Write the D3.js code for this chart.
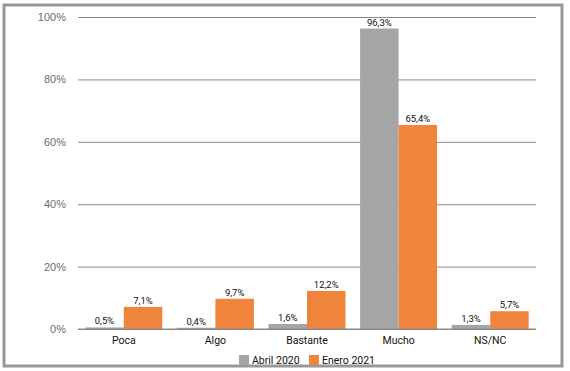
<!DOCTYPE html>
<html>
<head>
<meta charset="utf-8">
<script src="https://cdn.jsdelivr.net/npm/d3@7"></script>
<style>
  body { margin: 0; background: #fff; }
  svg { display: block; font-family: Roboto, 'Open Sans', sans-serif; }
</style>
</head>
<body>
<svg id="chart"></svg>
<script>
const categories = ['Poca', 'Algo', 'Bastante', 'Mucho', 'NS/NC']
const seriesNames = ['Abril 2020', 'Enero 2021']
const abril2020 = [0.5, 0.4, 1.6, 96.3, 1.3]
const enero2021 = [7.1, 9.7, 12.2, 65.4, 5.7]
const yTicks = [0, 20, 40, 60, 80, 100]
const colors = ['#a5a5a5', '#ef843c']

const width = 570
const height = 371
const margin = {left: 78, right: 34, top: 17, bottom: 42}

const svg = d3.select('#chart')
  .attr('width', width)
  .attr('height', height)

// frame
svg.append('rect')
  .attr('x', 4).attr('y', 5)
  .attr('width', 558).attr('height', 361)
  .attr('fill', 'none')
  .attr('stroke', '#999')
  .attr('stroke-width', 3)

const chartWidth = width - margin.left - margin.right
const chartHeight = height - margin.top - margin.bottom

const chart = svg.append('g')
  .attr('transform', `translate(${margin.left},${margin.top})`)

const x = d3.scaleBand().domain(categories).range([0, chartWidth])
const xInner = d3.scaleBand().domain(seriesNames).range([0, 77])
const y = d3.scaleLinear().domain([0, 100]).range([chartHeight, 0])

// gridlines + y labels
const yAxis = chart.append('g')
  .call(d3.axisLeft(y).tickValues(yTicks).tickSize(-chartWidth).tickPadding(12).tickFormat(d => d + '%'))
yAxis.select('.domain').remove()
yAxis.selectAll('.tick line').attr('stroke', '#8a8a8a')
yAxis.selectAll('.tick text')
  .attr('fill', '#6b6b6b')
  .style('font-size', '11px')

const rows = categories.map((c, i) => ({cat: c, vals: [abril2020[i], enero2021[i]]}))

const groups = chart.selectAll('.grp')
  .data(rows)
  .enter()
  .append('g')
  .attr('transform', d => `translate(${x(d.cat) + (x.bandwidth() - 77) / 2},0)`)

groups.selectAll('rect')
  .data(d => d.vals.map((v, j) => ({name: seriesNames[j], v: v, j: j})))
  .enter()
  .append('rect')
  .attr('x', d => xInner(d.name))
  .attr('width', xInner.bandwidth())
  .attr('y', d => y(d.v))
  .attr('height', d => chartHeight - y(d.v))
  .attr('fill', d => colors[d.j])

groups.selectAll('.val')
  .data(d => d.vals.map((v, j) => ({name: seriesNames[j], v: v, j: j})))
  .enter()
  .append('text')
  .attr('x', d => xInner(d.name) + xInner.bandwidth() / 2)
  .attr('y', d => y(d.v) - 3)
  .attr('text-anchor', 'middle')
  .attr('fill', '#111')
  .style('font-size', '9.5px')
  .text(d => d.v.toFixed(1).replace('.', ',') + '%')

// x axis baseline + labels
chart.append('line')
  .attr('x1', 0).attr('x2', chartWidth)
  .attr('y1', chartHeight).attr('y2', chartHeight)
  .attr('stroke', '#8a8a8a')

chart.selectAll('.cat')
  .data(categories)
  .enter()
  .append('text')
  .attr('x', d => x(d) + x.bandwidth() / 2)
  .attr('y', chartHeight + 15)
  .attr('text-anchor', 'middle')
  .attr('fill', '#111')
  .style('font-size', '10.5px')
  .text(d => d)

// legend
const legendX = [239, 309]
const legend = svg.selectAll('.leg')
  .data(seriesNames)
  .enter()
  .append('g')
  .attr('transform', (d, i) => `translate(${legendX[i]},355)`)
legend.append('rect')
  .attr('width', 10).attr('height', 10)
  .attr('fill', (d, i) => colors[i])
legend.append('text')
  .attr('x', 13).attr('y', 9)
  .attr('fill', '#111')
  .style('font-size', '10.5px')
  .text(d => d)
</script>
</body>
</html>
